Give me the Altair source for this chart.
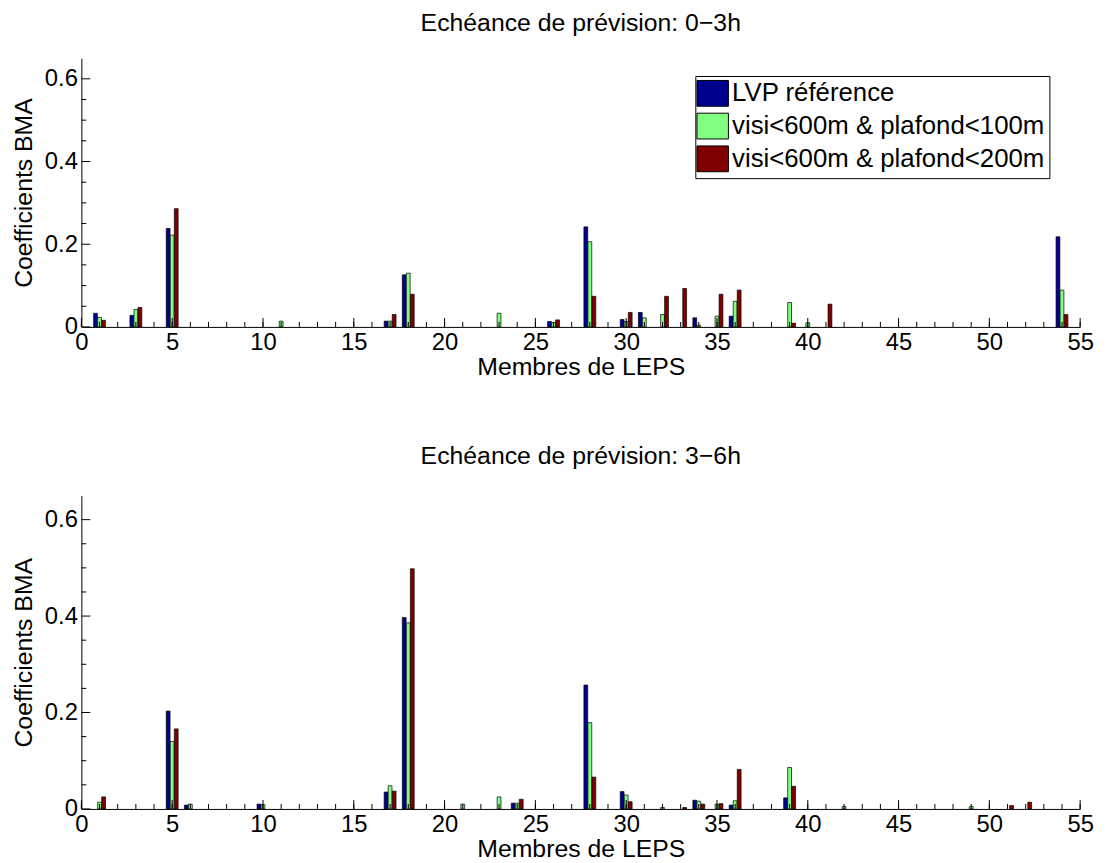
import altair as alt
import pandas as pd

FONT = "Liberation Sans"

series = ["LVP référence", "visi<600m & plafond<100m", "visi<600m & plafond<200m"]
colors = ["#00008F", "#80FF80", "#800000"]

# Panel 1 : Echéance 0-3h
top_members = [1, 3, 5, 11, 17, 18, 23, 26, 28, 30, 31, 32, 33, 34, 35, 36, 39, 40, 41, 54]
top_lvp = [0.033, 0.028, 0.238, 0.0, 0.014, 0.126, 0.0, 0.013, 0.242, 0.018, 0.035, 0.0, 0.0, 0.022, 0.0, 0.026, 0.0, 0.0, 0.0, 0.218]
top_100 = [0.023, 0.042, 0.222, 0.014, 0.014, 0.130, 0.033, 0.011, 0.206, 0.013, 0.022, 0.030, 0.0, 0.004, 0.026, 0.062, 0.059, 0.010, 0.0, 0.089]
top_200 = [0.016, 0.047, 0.286, 0.0, 0.030, 0.079, 0.0, 0.017, 0.074, 0.035, 0.0, 0.074, 0.093, 0.0, 0.079, 0.089, 0.009, 0.0, 0.055, 0.030]

# Panel 2 : Echéance 3-6h
bot_members = [1, 5, 6, 10, 17, 18, 21, 23, 24, 28, 30, 32, 33, 34, 35, 36, 39, 42, 49, 51, 52]
bot_lvp = [0.0, 0.203, 0.008, 0.010, 0.035, 0.397, 0.0, 0.0, 0.012, 0.257, 0.036, 0.0, 0.0, 0.018, 0.0, 0.008, 0.023, 0.0, 0.0, 0.0, 0.0]
bot_100 = [0.014, 0.140, 0.010, 0.009, 0.048, 0.386, 0.010, 0.025, 0.012, 0.179, 0.029, 0.003, 0.0, 0.016, 0.010, 0.017, 0.086, 0.005, 0.005, 0.0, 0.0]
bot_200 = [0.025, 0.166, 0.0, 0.0, 0.037, 0.498, 0.0, 0.0, 0.020, 0.066, 0.015, 0.0, 0.003, 0.010, 0.011, 0.082, 0.047, 0.0, 0.0, 0.007, 0.014]

x_labels = [0, 5, 10, 15, 20, 25, 30, 35, 40, 45, 50, 55]
x_minor = list(range(0, 56))
y_labels = [0, 0.2, 0.4, 0.6]
y_minor = [0.05, 0.1, 0.15, 0.25, 0.3, 0.35, 0.45, 0.5, 0.55]

titles = ["Echéance de prévision: 0\u22123h", "Echéance de prévision: 3\u22126h"]


def to_long(members, a, b, c):
    rows = []
    for i, m in enumerate(members):
        for k, vals in enumerate([a, b, c]):
            rows.append({"member": m, "serie": series[k], "k": k, "value": vals[i]})
    return pd.DataFrame(rows)


W = 1007
xs = alt.Scale(domain=[0, 55], nice=False, zero=False)
ys = alt.Scale(domain=[0, 0.65], nice=False)
x_axis = alt.Axis(values=x_labels, format="d", title="Membres de LEPS", titlePadding=0)
y_axis = alt.Axis(values=y_labels, format="~g", title="Coefficients BMA", titlePadding=8)


def panel(df, title, H, show_legend, title_offset):
    if show_legend:
        legend = alt.Legend(
            title=None, orient="none", legendX=619, legendY=18,
            symbolType="M-1.22,-1H1.22V1H-1.22Z", symbolSize=676,
            symbolStrokeColor="black", symbolStrokeWidth=1, symbolOpacity=1,
            labelFont=FONT, labelFontSize=26, labelColor="black", labelLimit=500,
            labelOffset=6, rowPadding=2, padding=4,
            strokeColor="black", fillColor="white",
        )
    else:
        legend = None
    bars = (
        alt.Chart(df)
        .transform_filter("datum.value > 0")
        .transform_calculate(
            x0="datum.member + (datum.k - 1) * 0.222 - 0.105",
            x1="datum.member + (datum.k - 1) * 0.222 + 0.105",
            zero="0",
        )
        .mark_rect(stroke="black", strokeWidth=0.7)
        .encode(
            x=alt.X("x0:Q", scale=xs, axis=x_axis),
            x2="x1:Q",
            y=alt.Y("value:Q", scale=ys, axis=y_axis),
            y2="zero:Q",
            color=alt.Color("serie:N", scale=alt.Scale(domain=series, range=colors), sort=series, legend=legend),
        )
    )
    xt_minor = alt.Chart(pd.DataFrame({"t": x_minor})).mark_rule(color="black", strokeWidth=1).encode(
        x=alt.X("t:Q", scale=xs, axis=x_axis), y=alt.value(H), y2=alt.value(H - 5))
    xt_major = alt.Chart(pd.DataFrame({"t": x_labels})).mark_rule(color="black", strokeWidth=1).encode(
        x=alt.X("t:Q", scale=xs, axis=x_axis), y=alt.value(H), y2=alt.value(H - 9))
    yt_minor = alt.Chart(pd.DataFrame({"t": y_minor})).mark_rule(color="black", strokeWidth=1).encode(
        y=alt.Y("t:Q", scale=ys, axis=y_axis), x=alt.value(0), x2=alt.value(5))
    yt_major = alt.Chart(pd.DataFrame({"t": y_labels})).mark_rule(color="black", strokeWidth=1).encode(
        y=alt.Y("t:Q", scale=ys, axis=y_axis), x=alt.value(0), x2=alt.value(9))
    return alt.layer(bars, xt_minor, xt_major, yt_minor, yt_major).properties(
        width=W, height=H,
        title=alt.TitleParams(title, font=FONT, fontSize=25, fontWeight="normal", color="black",
                              anchor="middle", offset=title_offset),
    )


top = panel(to_long(top_members, top_lvp, top_100, top_200), titles[0], 271, True, 22)
bottom = panel(to_long(bot_members, bot_lvp, bot_100, bot_200), titles[1], 316, False, 27)

chart = (
    alt.vconcat(top, bottom, spacing=65)
    .resolve_scale(color="independent")
    .resolve_legend(color="independent")
    .properties(padding={"left": 3, "top": 0, "right": 5, "bottom": 5}, background="white")
    .configure_view(stroke=None)
    .configure_axis(
        grid=False, ticks=False, domainColor="black", domainWidth=1,
        labelFont=FONT, labelFontSize=24, labelColor="black", labelPadding=4,
        titleFont=FONT, titleFontSize=25, titleFontWeight="normal", titleColor="black",
        labelFlush=False,
    )
)

chart.save("out.html", embed_options={"renderer": "svg", "actions": False})
